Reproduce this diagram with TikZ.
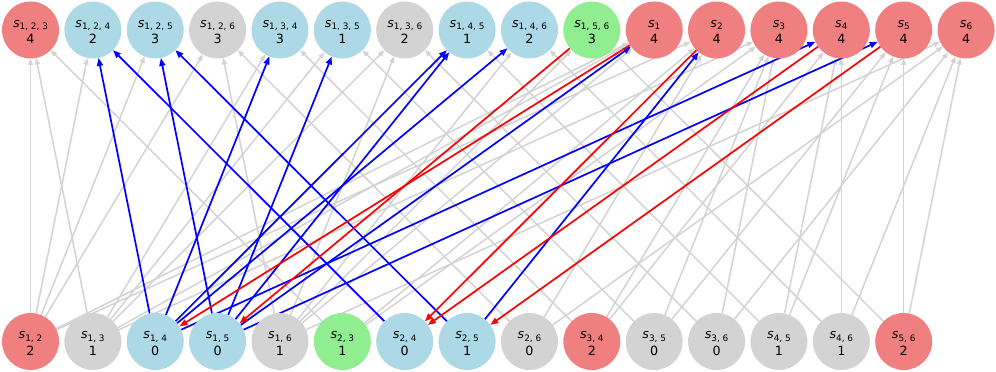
\documentclass[tikz,border=0pt]{standalone}
\usepackage{fontspec}
\setmainfont{DejaVu Sans}
\usetikzlibrary{arrows.meta}
\pgfdeclarelayer{bg}
\pgfsetlayers{bg,main}
\definecolor{lcoral}{HTML}{F08080}
\definecolor{lblue}{HTML}{ADD8E6}
\definecolor{lgray}{HTML}{D3D3D3}
\definecolor{lgreen}{HTML}{90EE90}
\newcommand\sbs[1]{\raisebox{-2.7pt}{\fontsize{8.9pt}{10pt}\selectfont #1}}
\newcommand\mknode[6]{%
  \node[vtx,fill=#4] (#1) at ({30.5+62.37*#2},#3) {};
  \node[lbl] (#1a) at ([yshift=2.7pt]#1.center) {\textit{s}\sbs{#5}};
  \node[lbl] (#1b) at ([yshift=-14pt]#1.center) {#6};}
\tikzset{
  vtx/.style={circle,draw=none,minimum size=57pt,inner sep=0pt,outer sep=0pt},
  lbl/.style={anchor=base,inner sep=0pt,outer sep=0pt,text=black,font=\fontsize{12.7pt}{15pt}\selectfont},
  gedge/.style={draw=lgray,line width=1.5pt,-{Triangle[length=6.5pt,width=5pt]}},
  bedge/.style={draw=blue,line width=1.7pt,-{Triangle[length=8pt,width=6pt]}},
  redge/.style={draw=red,line width=1.7pt,-{Triangle[length=8pt,width=6pt]}},
}
\begin{document}
\begin{tikzpicture}[x=1pt,y=1pt]
\useasboundingbox (0,0) rectangle (996,372);
% top row
\mknode{t123}{0}{342}{lcoral}{1, 2, 3}{4}
\mknode{t124}{1}{342}{lblue}{1, 2, 4}{2}
\mknode{t125}{2}{342}{lblue}{1, 2, 5}{3}
\mknode{t126}{3}{342}{lgray}{1, 2, 6}{3}
\mknode{t134}{4}{342}{lblue}{1, 3, 4}{3}
\mknode{t135}{5}{342}{lblue}{1, 3, 5}{1}
\mknode{t136}{6}{342}{lgray}{1, 3, 6}{2}
\mknode{t145}{7}{342}{lblue}{1, 4, 5}{1}
\mknode{t146}{8}{342}{lblue}{1, 4, 6}{2}
\mknode{t156}{9}{342}{lgreen}{1, 5, 6}{3}
\mknode{s1}{10}{342}{lcoral}{1}{4}
\mknode{s2}{11}{342}{lcoral}{2}{4}
\mknode{s3}{12}{342}{lcoral}{3}{4}
\mknode{s4}{13}{342}{lcoral}{4}{4}
\mknode{s5}{14}{342}{lcoral}{5}{4}
\mknode{s6}{15}{342}{lcoral}{6}{4}
% bottom row
\mknode{p12}{0}{30.5}{lcoral}{1, 2}{2}
\mknode{p13}{1}{30.5}{lgray}{1, 3}{1}
\mknode{p14}{2}{30.5}{lblue}{1, 4}{0}
\mknode{p15}{3}{30.5}{lblue}{1, 5}{0}
\mknode{p16}{4}{30.5}{lgray}{1, 6}{1}
\mknode{p23}{5}{30.5}{lgreen}{2, 3}{1}
\mknode{p24}{6}{30.5}{lblue}{2, 4}{0}
\mknode{p25}{7}{30.5}{lblue}{2, 5}{1}
\mknode{p26}{8}{30.5}{lgray}{2, 6}{0}
\mknode{p34}{9}{30.5}{lcoral}{3, 4}{2}
\mknode{p35}{10}{30.5}{lgray}{3, 5}{0}
\mknode{p36}{11}{30.5}{lgray}{3, 6}{0}
\mknode{p45}{12}{30.5}{lgray}{4, 5}{1}
\mknode{p46}{13}{30.5}{lgray}{4, 6}{1}
\mknode{p56}{14}{30.5}{lcoral}{5, 6}{2}
\begin{pgfonlayer}{bg}
\foreach \a/\b in {p12/t123,p13/t123,p23/t123,
  p12/t124,p12/t125,
  p12/t126,p16/t126,p26/t126,
  p13/t134,p34/t134,
  p13/t135,p35/t135,
  p13/t136,p16/t136,p36/t136,
  p45/t145,
  p16/t146,p46/t146,
  p16/t156,p56/t156,
  p12/s1,p13/s1,p16/s1,
  p12/s2,p23/s2,p26/s2,
  p13/s3,p23/s3,p34/s3,p35/s3,p36/s3,
  p34/s4,p45/s4,p46/s4,
  p35/s5,p45/s5,p56/s5,
  p16/s6,p26/s6,p36/s6,p46/s6,p56/s6}
  \draw[gedge] (\a) -- (\b);
\foreach \a/\b in {p14/t124,p24/t124,p15/t125,p25/t125,p14/t134,p15/t135,
  p14/t145,p15/t145,p14/t146,p15/s1,p25/s2,p14/s4,p15/s5}
  \draw[bedge] (\a) -- (\b);
\foreach \a/\b in {s1/p14,t156/p15,s2/p24,s4/p24,s5/p25}
  \draw[redge] (\a) -- (\b);
\end{pgfonlayer}
\end{tikzpicture}
\end{document}
